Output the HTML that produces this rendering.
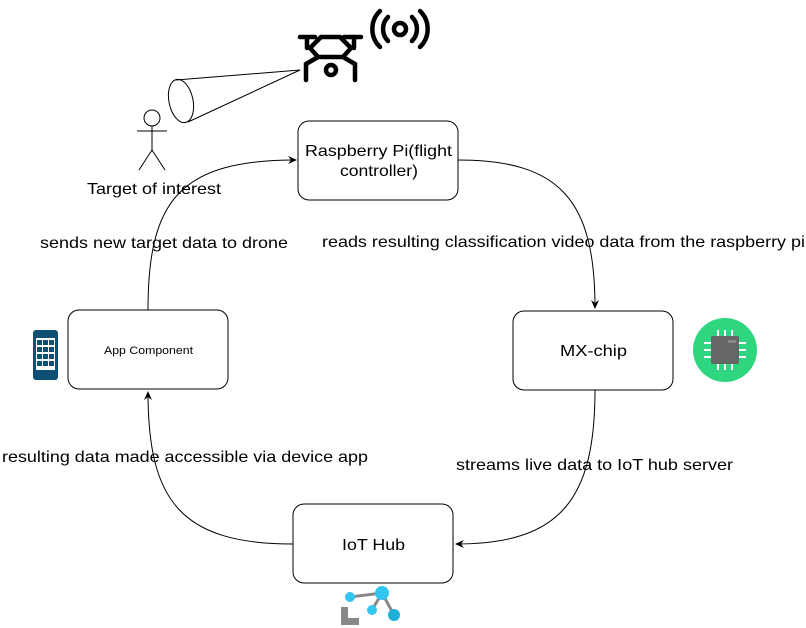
<!DOCTYPE html>
<html><head><style>body{margin:0;background:#fff}svg{display:block}text{font-family:"Liberation Sans",Arial,sans-serif;fill:#000}</style></head><body>
<svg width="806" height="628" viewBox="0 0 806 628" xmlns="http://www.w3.org/2000/svg">
<defs><marker id="a" markerWidth="10" markerHeight="10" refX="8" refY="5" orient="auto" markerUnits="userSpaceOnUse"><path d="M0,1 L9,5 L0,9 L3,5 Z" fill="#000"/></marker></defs>
<g fill="none" stroke="#000" stroke-width="1">
<path d="M458,160 C560,160 595,200 595,308" marker-end="url(#a)"/>
<path d="M595,390 C595,500 560,544 456,544" marker-end="url(#a)"/>
<path d="M293,544 C180,544 148,500 148,392" marker-end="url(#a)"/>
<path d="M148,310 C148,200 180,160 296,160" marker-end="url(#a)"/>
<rect x="298" y="121" width="160" height="79" rx="11"/>
<rect x="68" y="310" width="160" height="79" rx="11"/>
<rect x="513" y="311" width="160" height="79" rx="11"/>
<rect x="293" y="504" width="160" height="79" rx="11"/>
<circle cx="152" cy="118" r="8"/>
<path d="M152,126 V150 M137,131 H167 M152,150 L139,170 M152,150 L165,170"/>
<ellipse cx="181" cy="101" rx="12" ry="22" transform="rotate(-12 181 101)"/>
<path d="M176,80 L300,70 L188,122"/>
</g>
<g fill="none" stroke="#000" stroke-width="4.5" stroke-linecap="round">
<path d="M300,37 H315 M307,37 V48 M344,37 H361 M354,37 V48 M310,48 L321,37 H340 L351,48 L343,57 H318 Z M318,57 L306,64 V80 M343,57 L355,64 V80"/>
<circle cx="331" cy="70" r="5"/>
<circle cx="400" cy="29" r="6"/>
<path d="M388,17 A17,17 0 0 0 388,41 M412,17 A17,17 0 0 1 412,41 M380,11 A25,25 0 0 0 380,47 M420,11 A25,25 0 0 1 420,47"/>
</g>
<rect x="33" y="330" width="25" height="50" rx="3" fill="#0e4f73"/>
<rect x="36" y="338" width="19" height="32" fill="#fff"/>
<g fill="#0e4f73"><rect x="37" y="340" width="5" height="5"/><rect x="43" y="340" width="5" height="5"/><rect x="49" y="340" width="5" height="5"/><rect x="37" y="347" width="5" height="5"/><rect x="43" y="347" width="5" height="5"/><rect x="49" y="347" width="5" height="5"/><rect x="37" y="354" width="5" height="5"/><rect x="43" y="354" width="5" height="5"/><rect x="49" y="354" width="5" height="5"/><rect x="37" y="361" width="5" height="5"/><rect x="43" y="361" width="5" height="5"/><rect x="49" y="361" width="5" height="5"/></g>
<circle cx="725" cy="350" r="32" fill="#2fd680"/>
<g stroke="#fff" stroke-width="2"><path d="M718,330 V338 M725,330 V338 M732,330 V338 M718,362 V370 M725,362 V370 M732,362 V370 M704,343 H712 M704,350 H712 M704,357 H712 M738,343 H746 M738,350 H746 M738,357 H746"/></g>
<rect x="711" y="336" width="28" height="28" rx="2" fill="#666"/>
<rect x="728" y="340" width="8" height="3" fill="#888"/>
<path d="M350,597 L382,593 L372,610 M382,593 L394,615" stroke="#888" stroke-width="3" fill="none"/>
<circle cx="382" cy="593" r="7" fill="#32c5f0"/><circle cx="350" cy="597" r="5" fill="#32c5f0"/><circle cx="372" cy="610" r="5" fill="#32c5f0"/><circle cx="394" cy="615" r="6" fill="#1eaed9"/>
<path d="M341,607 V625 H359 V618 H348 V607 Z" fill="#888"/>
<g font-size="16">
<text x="305" y="156" textLength="147" lengthAdjust="spacingAndGlyphs">Raspberry Pi(flight</text>
<text x="340" y="176" textLength="78" lengthAdjust="spacingAndGlyphs">controller)</text>
<text x="560" y="356" textLength="67" lengthAdjust="spacingAndGlyphs">MX-chip</text>
<text x="342" y="550" textLength="63" lengthAdjust="spacingAndGlyphs">IoT Hub</text>
<text x="87" y="194" textLength="134" lengthAdjust="spacingAndGlyphs">Target of interest</text>
<text x="40" y="248" textLength="248" lengthAdjust="spacingAndGlyphs">sends new target data to drone</text>
<text x="322" y="247" textLength="483" lengthAdjust="spacingAndGlyphs">reads resulting classification video data from the raspberry pi</text>
<text x="2" y="462" textLength="366" lengthAdjust="spacingAndGlyphs">resulting data made accessible via device app</text>
<text x="456" y="470" textLength="277" lengthAdjust="spacingAndGlyphs">streams live data to IoT hub server</text>
</g>
<text x="104" y="354" font-size="11" textLength="89" lengthAdjust="spacingAndGlyphs">App Component</text>
</svg>
</body></html>
